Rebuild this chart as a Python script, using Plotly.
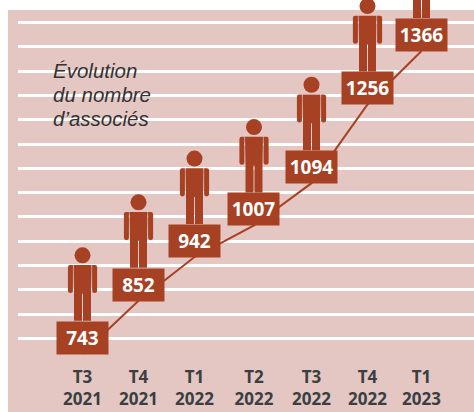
import plotly.graph_objects as go

periods = ["T3<br>2021", "T4<br>2021", "T1<br>2022", "T2<br>2022", "T3<br>2022", "T4<br>2022", "T1<br>2023"]
associates = [743, 852, 942, 1007, 1094, 1256, 1366]
title_lines = ["Évolution", "du nombre", "d’associés"]
# The printed chart spaces its columns slightly unevenly
column_slots = [0, 0.991, 1.982, 3.035, 4.053, 5.044, 6]

BROWN = "#A64123"
PINK = "#E4C6C2"
W, H = 474, 412

fig = go.Figure()
fig.add_trace(go.Scatter(x=column_slots, y=associates, mode="lines",
                         line=dict(color=BROWN, width=2), hoverinfo="skip", showlegend=False))

shapes = [
    dict(type="rect", xref="paper", yref="paper", x0=8/W, x1=1, y0=0, y1=(H-10)/H,
         fillcolor=PINK, line_width=0, layer="below"),
    dict(type="rect", xref="paper", yref="paper", x0=38/W, x1=167/W, y0=(H-128)/H, y1=(H-60)/H,
         fillcolor=PINK, line_width=0, layer="between"),
]

BODY = "M-8.5,33 L-8.5,60 L-9,88.7 L9,88.7 L8.5,60 L8.5,33 L0.5,33 L0.5,60 L-0.5,60 L-0.5,33 Z"
ARM_L = "M-9.6,88.7 L-12.5,88.7 Q-14.6,88.7 -14.6,86.5 L-14.6,63 Q-14.6,60.6 -12.1,60.6 Q-9.6,60.6 -9.6,63 Z"
ARM_R = "M9.6,88.7 L12.5,88.7 Q14.6,88.7 14.6,86.5 L14.6,63 Q14.6,60.6 12.1,60.6 Q9.6,60.6 9.6,63 Z"

for s, v in zip(column_slots, associates):
    anchor = dict(xref="x", yref="y", xsizemode="pixel", ysizemode="pixel", xanchor=s, yanchor=v,
                  fillcolor=BROWN, line_width=0, layer="above")
    for path in (BODY, ARM_L, ARM_R):
        shapes.append(dict(type="path", path=path, **anchor))
    shapes.append(dict(type="circle", x0=-8, x1=8, y0=90.4, y1=106.4, **anchor))

annotations = [
    dict(x=s, y=v, xref="x", yref="y", text=f"<b>{v}</b>", showarrow=False, yshift=16,
         width=51, height=32, bgcolor=BROWN, borderpad=0,
         font=dict(family="Noto Sans", size=19, color="white"))
    for s, v in zip(column_slots, associates)
]
for i, line in enumerate(title_lines):
    annotations.append(dict(
        xref="paper", yref="paper", x=51/W, y=(H-70.5-24.2*i)/H, xanchor="left", yanchor="middle", align="left",
        text=f"<i>{line}</i>", showarrow=False,
        font=dict(family="Liberation Sans", size=20.5, color="#333333")))

fig.update_layout(
    width=W, height=H, margin=dict(l=0, r=0, t=0, b=0),
    paper_bgcolor="white", plot_bgcolor="rgba(0,0,0,0)",
    showlegend=False, shapes=shapes, annotations=annotations,
    xaxis=dict(domain=[18/W, 1], range=[-1.142, 6.929], tickmode="array", tickvals=column_slots, ticktext=periods,
               showgrid=False, zeroline=False, showline=False, ticks="", ticklabelstandoff=2,
               tickfont=dict(family="Noto Sans", size=17, color="#3A3F42", weight=700)),
    yaxis=dict(domain=[49.3/H, 1], range=[724.5, 1471], tick0=724.5, dtick=50, showgrid=True,
               gridcolor="white", gridwidth=2.5, zeroline=False, showline=False, showticklabels=False, ticks=""),
)
fig.write_html("out.html", config=dict(displayModeBar=False),
               post_script="document.body.style.margin='0';document.documentElement.style.overflow='hidden';")
